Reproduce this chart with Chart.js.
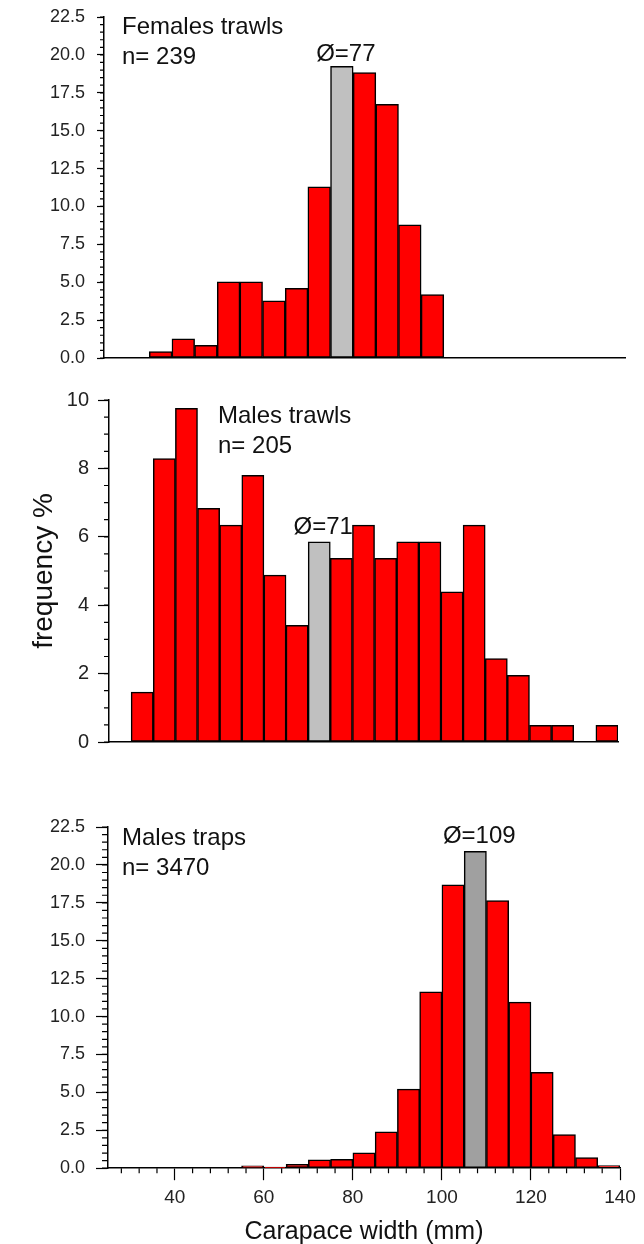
<!DOCTYPE html>
<html>
<head>
<meta charset="utf-8">
<script src="https://cdn.jsdelivr.net/npm/chart.js@4"></script>
<style>
  html, body { margin: 0; padding: 0; background: #fff; }
  #wrap { position: relative; width: 644px; height: 1244px; overflow: hidden; }
  canvas { position: absolute; left: 0; }
</style>
</head>
<body>
<div id="wrap">
  <canvas id="c1" width="644" height="380" style="top:0px"></canvas>
  <canvas id="c2" width="644" height="380" style="top:380px"></canvas>
  <canvas id="c3" width="644" height="447" style="top:800px"></canvas>
</div>
<script>
// bin centres (mm), 5 mm classes
const femaleBins = [37.5, 42.5, 47.5, 52.5, 57.5, 62.5, 67.5, 72.5, 77.5, 82.5, 87.5, 92.5, 97.5];
const femaleFreq = [0.42, 1.26, 0.84, 5.02, 5.02, 3.77, 4.60, 11.30, 19.25, 18.83, 16.74, 8.79, 4.18];

const maleTrawlBins = [32.5, 37.5, 42.5, 47.5, 52.5, 57.5, 62.5, 67.5, 72.5, 77.5, 82.5,
                       87.5, 92.5, 97.5, 102.5, 107.5, 112.5, 117.5, 122.5, 127.5, 132.5, 137.5];
const maleTrawlFreq = [1.46, 8.29, 9.76, 6.83, 6.34, 7.80, 4.88, 3.41, 5.85, 5.37, 6.34,
                       5.37, 5.85, 5.85, 4.39, 6.34, 2.44, 1.95, 0.49, 0.49, 0, 0.49];

const maleTrapBins = [57.5, 62.5, 67.5, 72.5, 77.5, 82.5, 87.5, 92.5, 97.5, 102.5,
                      107.5, 112.5, 117.5, 122.5, 127.5, 132.5, 137.5];
const maleTrapFreq = [0.15, 0.08, 0.26, 0.55, 0.58, 1.01, 2.40, 5.21, 11.63, 18.69,
                      20.89, 17.64, 10.95, 6.33, 2.22, 0.70, 0.18];

// tick labels
const xTicks = [40, 60, 80, 100, 120, 140];
const yTicks225 = [0, 2.5, 5, 7.5, 10, 12.5, 15, 17.5, 20, 22.5];
const yTicks10 = [0, 2, 4, 6, 8, 10];

// panel texts
const femaleText = ['Females trawls', 'n= 239'];
const maleTrawlText = ['Males trawls', 'n= 205'];
const maleTrapText = ['Males traps', 'n= 3470'];
const meanLabels = ['Ø=77', 'Ø=71', 'Ø=109'];
const meanBin = [77.5, 72.5, 107.5];

const RED = '#ff0000';
const FONT = '"Liberation Sans", Arial, Helvetica, sans-serif';
Chart.defaults.font.family = FONT;

function range(a, b, step) {
    var out = [];
    for (var v = a; v <= b + 1e-9; v += step) out.push(Math.round(v * 100) / 100);
    return out;
}

// minor ticks + in-plot texts
const extras = {
    id: 'extras',
    afterDraw(chart, args, opts) {
        var ctx = chart.ctx;
        var area = chart.chartArea;
        ctx.save();
        ctx.strokeStyle = '#000';
        ctx.lineWidth = 1.2;
        (opts.minor || []).forEach(function (m) {
            var sc = chart.scales[m.axis];
            ctx.beginPath();
            m.values.forEach(function (v) {
                var p = sc.getPixelForValue(v);
                if (m.axis === 'y') {
                    ctx.moveTo(area.left - m.len, p); ctx.lineTo(area.left, p);
                } else {
                    ctx.moveTo(p, area.bottom); ctx.lineTo(p, area.bottom + m.len);
                }
            });
            ctx.stroke();
        });

        ctx.fillStyle = '#111';
        ctx.font = '24px ' + FONT;
        ctx.textAlign = 'left';
        ctx.textBaseline = 'alphabetic';
        opts.lines.forEach(function (t, i) {
            ctx.fillText(t, area.left + opts.textX, area.top + opts.textY + i * 30);
        });

        var meta = chart.getDatasetMeta(0);
        var el = meta.data[opts.meanIndex];
        ctx.textAlign = 'center';
        ctx.fillText(opts.meanText, el.x + 4, el.y - opts.meanGap);
        ctx.restore();
    }
};

function makeChart(id, p) {
    var meanIdx = p.bins.indexOf(p.meanBin);
    var xAxis = {
        type: 'linear', min: 25, max: 140, offset: false,
        afterBuildTicks: function (s) { s.ticks = xTicks.map(function (v) { return { value: v }; }); },
        afterFit: function (s) { s.paddingLeft = 0; s.paddingRight = 0; },
        ticks: { display: false },
        grid: { display: false, drawTicks: false, offset: false },
        border: { display: true, color: '#000', width: 1.5 }
    };
    if (p.showX) {
        xAxis.ticks = { display: true, color: '#222', font: { size: 19 }, padding: 6, maxRotation: 0, autoSkip: false };
        xAxis.grid = { display: true, offset: false, drawOnChartArea: false, drawTicks: true,
                       tickLength: 12, tickColor: '#000', tickWidth: 1.2 };
        xAxis.title = { display: true, text: 'Carapace width (mm)', color: '#111',
                        font: { size: 25 }, padding: { top: 2, bottom: 0 } };
    }
    var yAxis = {
        min: 0, max: p.yMax,
        afterFit: function (s) { s.width = p.axisLeft; s.paddingTop = 0; s.paddingBottom = 0; },
        afterBuildTicks: function (s) { s.ticks = p.yTicks.map(function (v) { return { value: v }; }); },
        ticks: {
            color: '#222', font: { size: p.yFont }, padding: p.yPad, autoSkip: false,
            callback: function (v) { return p.yMax === 10 ? String(v) : v.toFixed(1); }
        },
        grid: { display: true, drawOnChartArea: false, drawTicks: true,
                tickLength: p.tickLen, tickColor: '#000', tickWidth: 1.2 },
        border: { display: true, color: '#000', width: 1.5 }
    };
    if (p.yTitle) {
        yAxis.title = { display: true, text: p.yTitle, color: '#111',
                        font: { size: 28 }, padding: { top: 27, bottom: 0 } };
    }

    return new Chart(document.getElementById(id).getContext('2d'), {
        type: 'bar',
        data: {
            datasets: [{
                data: p.bins.map(function (b, i) { return { x: b, y: p.freq[i] }; }),
                backgroundColor: p.bins.map(function (b, i) { return i === meanIdx ? p.meanColor : RED; }),
                borderColor: '#000',
                borderWidth: 1.5,
                borderSkipped: false,
                barPercentage: 1,
                categoryPercentage: 1
            }]
        },
        options: {
            responsive: false,
            animation: false,
            layout: { padding: p.padding },
            scales: { x: xAxis, y: yAxis },
            plugins: {
                legend: { display: false },
                tooltip: { enabled: false },
                extras: {
                    minor: p.minor,
                    lines: p.text, textX: p.textX, textY: p.textY,
                    meanIndex: meanIdx, meanText: p.meanText, meanGap: p.meanGap
                }
            }
        },
        plugins: [extras]
    });
}

makeChart('c1', {
    bins: femaleBins, freq: femaleFreq, meanBin: meanBin[0], meanText: meanLabels[0],
    meanColor: '#c0c0c0', meanGap: 5,
    yMax: 22.5, yTicks: yTicks225, yFont: 18, yPad: 12, tickLen: 7, axisLeft: 104,
    padding: { top: 17, bottom: 22, left: 0, right: 19 },
    text: femaleText, textX: 18, textY: 17,
    minor: [{ axis: 'y', values: range(0, 22.5, 0.5), len: 4 }]
});

makeChart('c2', {
    bins: maleTrawlBins, freq: maleTrawlFreq, meanBin: meanBin[1], meanText: meanLabels[1],
    meanColor: '#c0c0c0', meanGap: 8,
    yMax: 10, yTicks: yTicks10, yFont: 20, yPad: 9, tickLen: 11, axisLeft: 109,
    yTitle: 'frequency %',
    padding: { top: 20, bottom: 18, left: 0, right: 26 },
    text: maleTrawlText, textX: 109, textY: 23,
    minor: [{ axis: 'y', values: range(0, 10, 0.5), len: 5 }]
});

makeChart('c3', {
    bins: maleTrapBins, freq: maleTrapFreq, meanBin: meanBin[2], meanText: meanLabels[2],
    meanColor: '#a0a0a0', meanGap: 8,
    yMax: 22.5, yTicks: yTicks225, yFont: 18, yPad: 11, tickLen: 12, axisLeft: 108,
    showX: true,
    padding: { top: 27, bottom: 0, left: 0, right: 24 },
    text: maleTrapText, textX: 14, textY: 18,
    minor: [{ axis: 'y', values: range(0, 22.5, 0.5), len: 6 },
            { axis: 'x', values: range(28, 136, 4).filter(function (v) { return v % 20 !== 0; }), len: 5 }]
});
</script>
</body>
</html>
